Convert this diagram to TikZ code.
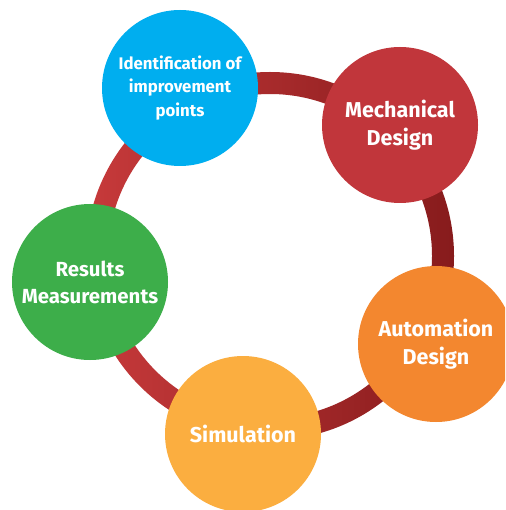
\documentclass[tikz,border=0pt]{standalone}
\usepackage{fontspec}
\setmainfont{Fira Sans}
\definecolor{cBlue}{HTML}{00AEEF}
\definecolor{cRed}{HTML}{C1363B}
\definecolor{cOrange}{HTML}{F3872F}
\definecolor{cYellow}{HTML}{FBAE40}
\definecolor{cGreen}{HTML}{3DAE4A}
\definecolor{ringL}{HTML}{C73A3B}
\definecolor{ringR}{HTML}{871B1C}
\tikzset{
  bubble/.style={circle, minimum size=156pt, inner sep=0pt, text=white,
    font=\bfseries\fontsize{21.5}{28}\selectfont, align=center},
}
\begin{document}
\begin{tikzpicture}[x=1pt,y=-1pt]
\useasboundingbox (0,0) rectangle (505,510);
\clip (0,0) rectangle (505,510);
\fill[white] (0,0) rectangle (505,510);
\coordinate (ctr) at (270,256);
\shade[left color=ringL, right color=ringR, even odd rule]
  (ctr) circle[radius=184pt] (ctr) circle[radius=162pt];
\node[bubble, fill=cBlue, font=\bfseries\fontsize{16.8}{23.5}\selectfont] (ident) at (180,88) {Identification of\\improvement\\points};
\node[bubble, fill=cRed] (mech) at (400,125) {Mechanical\\Design};
\node[bubble, fill=cOrange] (auto) at (436,344) {Automation\\Design};
\node[bubble, fill=cYellow] (sim) at (243,434) {Simulation};
\node[bubble, fill=cGreen, font=\bfseries\fontsize{20.4}{27}\selectfont] (res) at (90,282) {Results\\Measurements};
\end{tikzpicture}
\end{document}
